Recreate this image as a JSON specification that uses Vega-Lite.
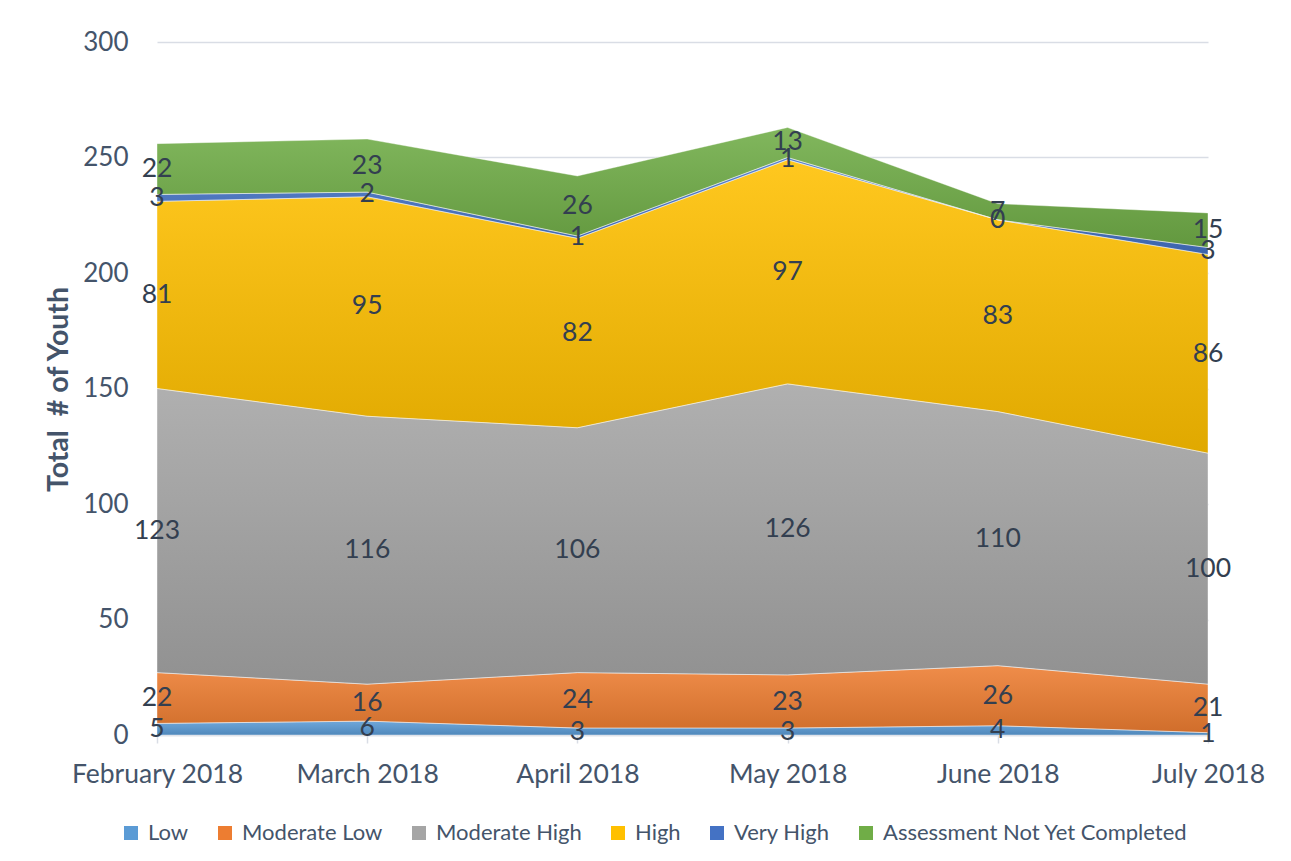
{
  "$schema": "https://vega.github.io/schema/vega-lite/v6.json",
  "width": 1051,
  "height": 693,
  "autosize": {"type": "none"},
  "padding": {"left": 157, "top": 42, "right": 83, "bottom": 126},
  "background": "#ffffff",
  "config": {
    "view": {"stroke": null},
    "font": "Lato",
    "axis": {"labelFont": "Lato", "titleFont": "Lato", "labelColor": "#44546a", "titleColor": "#44546a"},
    "legend": {"labelFont": "Lato"}
  },
  "data": {
    "values": [
      {"month": "February 2018", "series": "Low", "k": 1, "count": 5},
      {"month": "February 2018", "series": "Moderate Low", "k": 2, "count": 22},
      {"month": "February 2018", "series": "Moderate High", "k": 3, "count": 123},
      {"month": "February 2018", "series": "High", "k": 4, "count": 81},
      {"month": "February 2018", "series": "Very High", "k": 5, "count": 3},
      {"month": "February 2018", "series": "Assessment Not Yet Completed", "k": 6, "count": 22},
      {"month": "March 2018", "series": "Low", "k": 1, "count": 6},
      {"month": "March 2018", "series": "Moderate Low", "k": 2, "count": 16},
      {"month": "March 2018", "series": "Moderate High", "k": 3, "count": 116},
      {"month": "March 2018", "series": "High", "k": 4, "count": 95},
      {"month": "March 2018", "series": "Very High", "k": 5, "count": 2},
      {"month": "March 2018", "series": "Assessment Not Yet Completed", "k": 6, "count": 23},
      {"month": "April 2018", "series": "Low", "k": 1, "count": 3},
      {"month": "April 2018", "series": "Moderate Low", "k": 2, "count": 24},
      {"month": "April 2018", "series": "Moderate High", "k": 3, "count": 106},
      {"month": "April 2018", "series": "High", "k": 4, "count": 82},
      {"month": "April 2018", "series": "Very High", "k": 5, "count": 1},
      {"month": "April 2018", "series": "Assessment Not Yet Completed", "k": 6, "count": 26},
      {"month": "May 2018", "series": "Low", "k": 1, "count": 3},
      {"month": "May 2018", "series": "Moderate Low", "k": 2, "count": 23},
      {"month": "May 2018", "series": "Moderate High", "k": 3, "count": 126},
      {"month": "May 2018", "series": "High", "k": 4, "count": 97},
      {"month": "May 2018", "series": "Very High", "k": 5, "count": 1},
      {"month": "May 2018", "series": "Assessment Not Yet Completed", "k": 6, "count": 13},
      {"month": "June 2018", "series": "Low", "k": 1, "count": 4},
      {"month": "June 2018", "series": "Moderate Low", "k": 2, "count": 26},
      {"month": "June 2018", "series": "Moderate High", "k": 3, "count": 110},
      {"month": "June 2018", "series": "High", "k": 4, "count": 83},
      {"month": "June 2018", "series": "Very High", "k": 5, "count": 0},
      {"month": "June 2018", "series": "Assessment Not Yet Completed", "k": 6, "count": 7},
      {"month": "July 2018", "series": "Low", "k": 1, "count": 1},
      {"month": "July 2018", "series": "Moderate Low", "k": 2, "count": 21},
      {"month": "July 2018", "series": "Moderate High", "k": 3, "count": 100},
      {"month": "July 2018", "series": "High", "k": 4, "count": 86},
      {"month": "July 2018", "series": "Very High", "k": 5, "count": 3},
      {"month": "July 2018", "series": "Assessment Not Yet Completed", "k": 6, "count": 15}
    ]
  },
  "transform": [
    {"stack": "count", "groupby": ["month"], "sort": [{"field": "k", "order": "ascending"}], "as": ["y0", "y1"]}
  ],
  "encoding": {
    "x": {
      "field": "month",
      "type": "ordinal",
      "sort": ["February 2018", "March 2018", "April 2018", "May 2018", "June 2018", "July 2018"],
      "scale": {"type": "point", "padding": 0},
      "axis": {
        "title": null,
        "labelAngle": 0,
        "labelFontSize": 26.5,
        "labelBaseline": "alphabetic",
        "labelPadding": 39,
        "ticks": true,
        "tickSize": 8,
        "tickColor": "#d9dde5",
        "tickWidth": 1.5,
        "domainColor": "#d9dde5",
        "domainWidth": 1.5,
        "grid": false
      }
    }
  },
  "layer": [
    {
      "mark": {"type": "area", "opacity": 1},
      "encoding": {
        "y": {
          "field": "y1",
          "type": "quantitative",
          "scale": {"domain": [0, 300], "nice": false},
          "axis": {
            "title": "Total \u00a0# of Youth",
            "titleFontSize": 28.5,
            "titleFontWeight": "bold",
            "titleAngle": -90,
            "titleX": -99,
            "titleY": 347,
            "titleAlign": "center",
            "titleBaseline": "middle",
            "values": [0, 50, 100, 150, 200, 250, 300],
            "labelFontSize": 26,
            "labelPadding": 29,
            "ticks": false,
            "domain": false,
            "grid": true,
            "gridColor": "#d9dde5",
            "gridWidth": 1.5
          }
        },
        "y2": {"field": "y0"},
        "color": {
          "field": "series",
          "type": "nominal",
          "scale": {
            "domain": ["Low", "Moderate Low", "Moderate High", "High", "Very High", "Assessment Not Yet Completed"],
            "range": ["#5b9bd5", "#ed7d31", "#a5a5a5", "#ffc000", "#4472c4", "#70ad47"]
          },
          "legend": {
            "title": null,
            "orient": "none",
            "direction": "horizontal",
            "legendX": -37,
            "legendY": 780,
            "symbolType": "square",
            "symbolSize": 196,
            "symbolStrokeWidth": 0,
            "symbolOpacity": 1,
            "labelFontSize": 22,
            "labelColor": "#44546a",
            "labelOffset": 6,
            "columnPadding": 25,
            "labelLimit": 400
          }
        }
      }
    },
    {
      "mark": {
        "type": "area",
        "fill": {
          "gradient": "linear",
          "x1": 0, "y1": 0, "x2": 0, "y2": 1,
          "stops": [
            {"offset": 0, "color": "rgba(255,255,255,0.12)"},
            {"offset": 1, "color": "rgba(0,0,0,0.12)"}
          ]
        },
        "stroke": "#ffffff",
        "strokeWidth": 0.8,
        "strokeOpacity": 0.5
      },
      "encoding": {
        "y": {"field": "y1", "type": "quantitative"},
        "y2": {"field": "y0"},
        "detail": {"field": "series"}
      }
    },
    {
      "transform": [
        {"fold": ["y0", "y1"], "as": ["end", "pos"]}
      ],
      "mark": {"type": "text", "fontSize": 26.5, "font": "Lato", "color": "#333f50", "align": "center", "baseline": "middle"},
      "encoding": {
        "y": {"field": "pos", "aggregate": "mean", "type": "quantitative"},
        "text": {"field": "count", "type": "quantitative"},
        "detail": {"field": "series"}
      }
    }
  ]
}
